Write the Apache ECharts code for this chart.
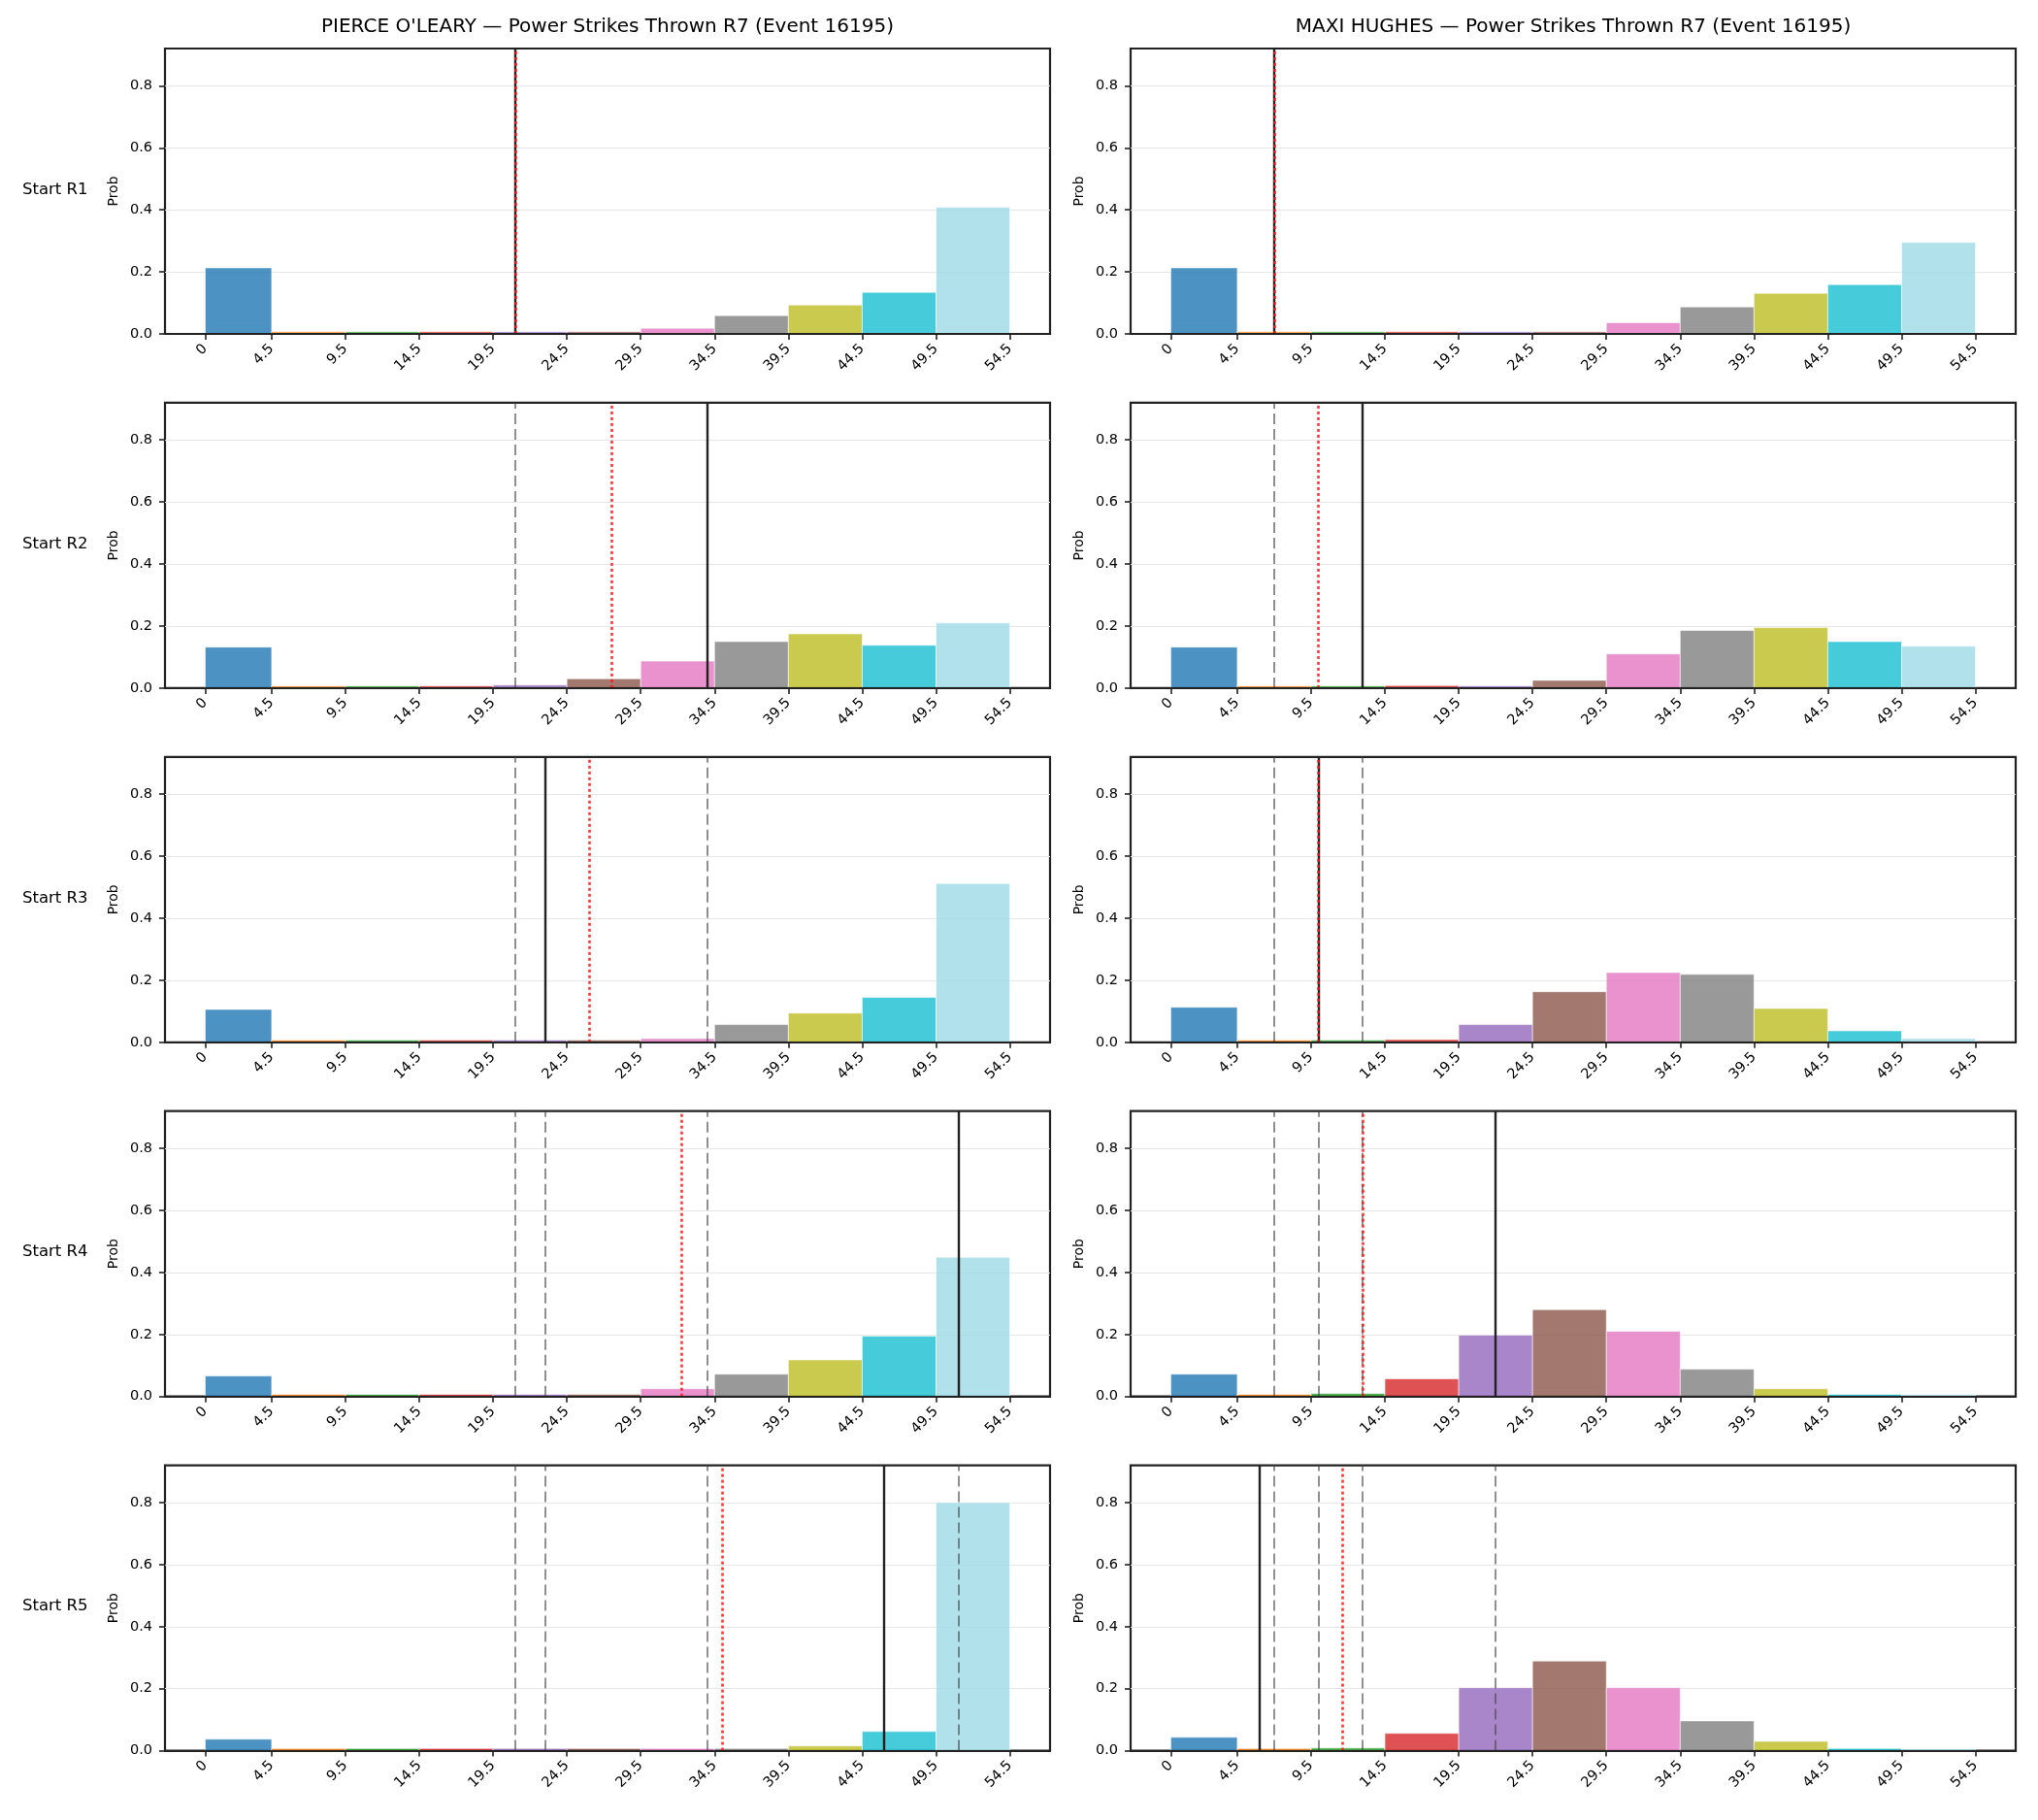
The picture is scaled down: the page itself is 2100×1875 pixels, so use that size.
<!DOCTYPE html>
<html>
<head>
<meta charset="utf-8">
<script src="https://cdn.jsdelivr.net/npm/echarts@6/dist/echarts.min.js"></script>
<style>
html,body{margin:0;padding:0;background:#fff}
#chart{width:2100px;height:1875px}
</style>
</head>
<body>
<div id="chart"></div>
<script>
// bin edges (also the x tick labels)
const binEdges = [0, 4.5, 9.5, 14.5, 19.5, 24.5, 29.5, 34.5, 39.5, 44.5, 49.5, 54.5]
const yTicks = [0, 0.2, 0.4, 0.6, 0.8]
const rowLabels = ['Start R1', 'Start R2', 'Start R3', 'Start R4', 'Start R5']
const fighters = ["PIERCE O'LEARY", 'MAXI HUGHES']

// PIERCE O'LEARY - prob per bin, one array per start round
const pierceR1 = [0.213, 0.007, 0.007, 0.007, 0.007, 0.007, 0.018, 0.059, 0.093, 0.134, 0.408]
const pierceR2 = [0.132, 0.007, 0.007, 0.007, 0.010, 0.030, 0.087, 0.150, 0.175, 0.138, 0.210]
const pierceR3 = [0.106, 0.007, 0.007, 0.007, 0.007, 0.007, 0.012, 0.057, 0.094, 0.145, 0.512]
const pierceR4 = [0.066, 0.007, 0.007, 0.007, 0.007, 0.007, 0.025, 0.072, 0.118, 0.195, 0.449]
const pierceR5 = [0.037, 0.007, 0.007, 0.007, 0.007, 0.007, 0.007, 0.007, 0.015, 0.062, 0.800]

// MAXI HUGHES
const maxiR1 = [0.213, 0.007, 0.007, 0.007, 0.007, 0.007, 0.036, 0.087, 0.131, 0.159, 0.295]
const maxiR2 = [0.132, 0.007, 0.007, 0.008, 0.007, 0.025, 0.110, 0.186, 0.195, 0.150, 0.135]
const maxiR3 = [0.113, 0.007, 0.007, 0.009, 0.057, 0.163, 0.225, 0.219, 0.109, 0.037, 0.012]
const maxiR4 = [0.072, 0.007, 0.010, 0.057, 0.198, 0.280, 0.210, 0.088, 0.025, 0.007, 0.006]
const maxiR5 = [0.043, 0.007, 0.009, 0.056, 0.203, 0.289, 0.203, 0.096, 0.030, 0.007, 0.006]

// actual strikes per round (solid black = current, dashed = earlier rounds)
const pierceActual = [21, 34, 23, 51, 46]
const maxiActual = [7, 13, 10, 22, 6]
// red dotted line per start round
const pierceMean = [21, 27.5, 26, 32.25, 35]
const maxiMean = [7, 10, 10, 13, 11.6]

const probs = [
  [pierceR1, pierceR2, pierceR3, pierceR4, pierceR5],
  [maxiR1, maxiR2, maxiR3, maxiR4, maxiR5]
]
const actuals = [pierceActual, maxiActual]
const means = [pierceMean, maxiMean]

const binColors = ['#1f77b4', '#ff7f0e', '#2ca02c', '#d62728', '#9467bd', '#8c564b',
  '#e377c2', '#7f7f7f', '#bcbd22', '#17becf', '#9edae5']

const FONT = 'DejaVu Sans'
const colLeft = [170, 1165]
const gridW = 912
const gridH = 294
const rowTop = (r) => 50 + r * 364.9

const chart = echarts.init(document.getElementById('chart'))

const grids = [], xAxes = [], yAxes = [], series = [], titles = [], graphics = []

fighters.forEach((name, c) => {
  titles.push({
    text: name + ' — Power Strikes Thrown R7 (Event 16195)',
    left: colLeft[c] + gridW / 2,
    top: 18,
    textAlign: 'center',
    padding: 0,
    textStyle: { fontFamily: FONT, fontSize: 20, fontWeight: 'normal', color: '#000' }
  })
  for (let r = 0; r < 5; r++) {
    const idx = grids.length
    grids.push({
      left: colLeft[c], top: rowTop(r), width: gridW, height: gridH,
      show: true, borderColor: '#222', borderWidth: 2.2, backgroundColor: 'transparent'
    })
    // x axis drawn above the bars so the bottom spine covers them like matplotlib
    xAxes.push({
      type: 'value', gridIndex: idx, min: -2.725, max: 57.225, z: 5,
      splitLine: { show: false },
      axisLine: { show: true, onZero: false, lineStyle: { color: '#222', width: 2.2 } },
      axisTick: { show: true, customValues: binEdges, length: 6, lineStyle: { color: '#222', width: 1.6 } },
      axisLabel: {
        customValues: binEdges, rotate: 45, margin: 13,
        fontFamily: FONT, fontSize: 14.5, color: '#000',
        formatter: (v) => String(v)
      }
    })
    yAxes.push({
      type: 'value', gridIndex: idx, min: 0, max: 0.92, interval: 0.2,
      name: 'Prob', nameLocation: 'middle', nameGap: 46,
      nameTextStyle: { fontFamily: FONT, fontSize: 14, color: '#000' },
      axisLine: { show: false, onZero: false },
      axisTick: { show: true, customValues: yTicks, length: 6, lineStyle: { color: '#222', width: 1.6 } },
      axisLabel: {
        customValues: yTicks, margin: 13,
        fontFamily: FONT, fontSize: 14.5, color: '#000',
        formatter: (v) => v.toFixed(1)
      },
      splitLine: { show: true, lineStyle: { color: '#e6e6e6', width: 1.2 } }
    })

    const data = probs[c][r].map((p, i) => [binEdges[i], binEdges[i + 1], p, i])

    const lines = []
    for (let k = 0; k < r; k++) {
      lines.push({ xAxis: actuals[c][k], lineStyle: { type: [11, 5], color: 'rgba(70,70,70,0.75)', width: 1.6 } })
    }
    lines.push({ xAxis: actuals[c][r], lineStyle: { type: 'solid', color: '#222', width: 2.4 } })
    lines.push({ xAxis: means[c][r], lineStyle: { type: [3, 3], color: 'rgba(255,20,20,0.85)', width: 2.6 } })

    series.push({
      type: 'custom',
      xAxisIndex: idx, yAxisIndex: idx,
      data: data,
      animation: false,
      renderItem: (params, api) => {
        const p0 = api.coord([api.value(0), api.value(2)])
        const p1 = api.coord([api.value(1), 0])
        return {
          type: 'rect',
          shape: { x: p0[0], y: p0[1], width: p1[0] - p0[0], height: p1[1] - p0[1] },
          style: { fill: binColors[api.value(3)], opacity: 0.8, stroke: '#fff', lineWidth: 0.7 }
        }
      },
      markLine: {
        silent: true, symbol: ['none', 'none'], animation: false,
        label: { show: false },
        data: lines
      }
    })
  }
})

rowLabels.forEach((txt, r) => {
  graphics.push({
    type: 'text', left: 23, top: rowTop(r) + gridH / 2 - 10,
    style: { text: txt, fontFamily: FONT, fontSize: 16.5, fill: '#000' }
  })
})

chart.setOption({
  animation: false,
  backgroundColor: '#fff',
  title: titles,
  grid: grids,
  xAxis: xAxes,
  yAxis: yAxes,
  series: series,
  graphic: graphics
})

window.addEventListener('resize', () => chart.resize())
</script>
</body>
</html>
